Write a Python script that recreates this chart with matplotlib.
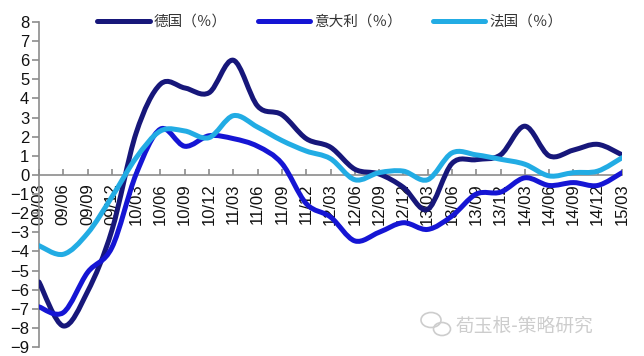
import matplotlib
matplotlib.use('Agg')
import matplotlib.pyplot as plt
from matplotlib.path import Path
from matplotlib.patches import PathPatch, Ellipse
from matplotlib.lines import Line2D

quarters = ['09/03', '09/06', '09/09', '09/12', '10/03', '10/06', '10/09', '10/12',
            '11/03', '11/06', '11/09', '11/12', '12/03', '12/06', '12/09', '12/12',
            '13/03', '13/06', '13/09', '13/12', '14/03', '14/06', '14/09', '14/12', '15/03']
germany = [-5.6, -7.9, -6.1, -2.9, 2.2, 4.75, 4.55, 4.3, 6.0, 3.6, 3.15, 1.9, 1.45,
           0.3, 0.05, -0.65, -1.8, 0.6, 0.8, 1.05, 2.55, 1.0, 1.3, 1.6, 1.05]
italy = [-6.9, -7.2, -5.1, -3.8, 0.05, 2.4, 1.5, 2.05, 1.9, 1.5, 0.6, -1.5, -2.2,
         -3.45, -3.0, -2.5, -2.85, -2.15, -1.0, -0.9, -0.15, -0.55, -0.4, -0.55, 0.12]
france = [-3.7, -4.15, -3.05, -1.15, 0.9, 2.3, 2.3, 1.95, 3.1, 2.5, 1.8, 1.25, 0.85,
          -0.25, 0.12, 0.2, -0.25, 1.15, 1.05, 0.82, 0.56, -0.05, 0.12, 0.2, 0.9]
series_names = ['德国（％）', '意大利（％）', '法国（％）']
colors = ['#17177a', '#1515d4', '#22ace4']

plt.rcParams['font.family'] = ['Liberation Sans', 'DejaVu Sans']

fig = plt.figure(figsize=(6.44, 3.56), dpi=100)
ax = fig.add_axes([39 / 644, 1 - 347 / 356, (622 - 39) / 644, (347 - 22) / 356])


def smooth_path(ys):
    n = len(ys)
    pts = list(zip(range(n), ys))
    verts = [pts[0]]
    codes = [Path.MOVETO]
    for i in range(n - 1):
        p0 = pts[i - 1] if i > 0 else pts[i]
        p1 = pts[i]
        p2 = pts[i + 1]
        p3 = pts[i + 2] if i + 2 < n else pts[i + 1]
        c1 = (p1[0] + (p2[0] - p0[0]) / 6, p1[1] + (p2[1] - p0[1]) / 6)
        c2 = (p2[0] - (p3[0] - p1[0]) / 6, p2[1] - (p3[1] - p1[1]) / 6)
        verts += [c1, c2, p2]
        codes += [Path.CURVE4] * 3
    return Path(verts, codes)


handles = []
for ys, c, name in zip([germany, italy, france], colors, series_names):
    patch = PathPatch(smooth_path(ys), facecolor='none', edgecolor=c, lw=3.6,
                      capstyle='round', joinstyle='round', zorder=3)
    ax.add_patch(patch)
    handles.append(Line2D([], [], color=c, lw=3.6, solid_capstyle='round', label=name))

ax.set_xlim(0, len(quarters) - 1)
ax.set_ylim(-9, 8)
ax.set_yticks(range(-9, 9))
ax.set_xticks(range(len(quarters)))
ax.set_xticklabels(quarters)

for s in ['top', 'right']:
    ax.spines[s].set_visible(False)
ax.spines['bottom'].set_position(('data', 0))
ax.spines['left'].set_color('#8c8c8c')
ax.spines['bottom'].set_color('#8c8c8c')
ax.spines['left'].set_linewidth(1.2)
ax.spines['bottom'].set_linewidth(1.2)
ax.tick_params(axis='y', direction='out', length=5, width=1.2, color='#8c8c8c',
               labelsize=12, pad=2, labelcolor='#111111')
ax.tick_params(axis='x', direction='in', length=4, width=1.2, color='#8c8c8c',
               labelsize=12, pad=6, labelcolor='#111111', labelrotation=90)
for lbl in ax.get_xticklabels():
    lbl.set_verticalalignment('top')
    lbl.set_horizontalalignment('center')

leg = ax.legend(handles=handles, loc='center', bbox_to_anchor=((330 - 39) / 583, 1.0),
                ncol=3, frameon=False, handlelength=3.6, handletextpad=0.3,
                columnspacing=2.1, prop={'family': ['Noto Sans CJK SC'], 'size': 10.5})
for t in leg.get_texts():
    t.set_color('#333333')

# watermark
fig.text(456 / 644, 1 - 326 / 356, '荀玉根-策略研究', color='#cdcdcd', fontsize=13.5,
         family=['Noto Sans CJK SC'], va='center', ha='left')
W, H = 644, 356
fig.patches.append(Ellipse((431 / W, 1 - 320 / H), 20 / W, 15 / H, transform=fig.transFigure,
                           fill=False, edgecolor='#cdcdcd', lw=1.2))
fig.patches.append(Ellipse((442 / W, 1 - 329 / H), 17 / W, 13 / H, transform=fig.transFigure,
                           fill=False, edgecolor='#cdcdcd', lw=1.2))

fig.savefig('out.png', dpi=100)
